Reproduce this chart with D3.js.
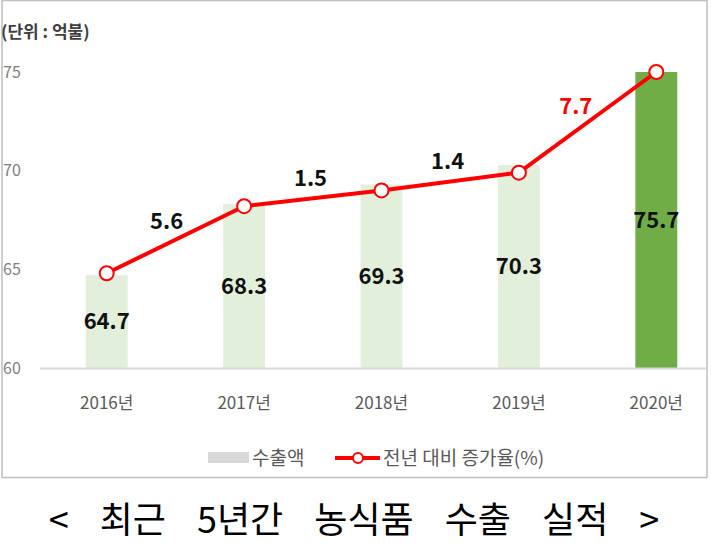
<!DOCTYPE html>
<html>
<head>
<meta charset="utf-8">
<script src="https://cdn.jsdelivr.net/npm/d3@7"></script>
<style>
  body { margin: 0; background: #fff; }
  text { font-family: "Noto Sans CJK KR", "Noto Sans", sans-serif; }
</style>
</head>
<body>
<div id="canvas"></div>
<script>
const years = ["2016년", "2017년", "2018년", "2019년", "2020년"];
const exports = [64.7, 68.3, 69.3, 70.3, 75.7];
// line markers as they sit on the value axis
const lineVals = [64.8, 68.2, 69.0, 69.9, 75.0];
const growth = ["5.6", "1.5", "1.4", "7.7"];
const yTicks = [60, 65, 70, 75];

const width = 711, height = 547;
const svg = d3.select("#canvas").append("svg")
    .attr("width", width)
    .attr("height", height);

// chart frame
svg.append("rect")
    .attr("x", 2).attr("y", 0.5)
    .attr("width", 705).attr("height", 477)
    .attr("fill", "none")
    .attr("stroke", "#bfbfbf")
    .attr("stroke-width", 1.5);

const x = d3.scaleBand()
    .domain(years)
    .range([38, 725])
    .paddingInner(0.695)
    .paddingOuter(0.3475);

const y = d3.scaleLinear()
    .domain([60, 75])
    .range([368, 72]);

const cx = d => x(d) + x.bandwidth() / 2;

// unit label
svg.append("text")
    .attr("x", 1).attr("y", 38)
    .attr("font-size", 17)
    .attr("font-weight", "bold")
    .attr("fill", "#404040")
    .text("(단위 : 억불)");

// y axis labels
const yAxis = svg.append("g")
    .attr("transform", "translate(3,0)")
    .call(d3.axisLeft(y).tickValues(yTicks).tickSize(0).tickPadding(0));
yAxis.select(".domain").remove();
yAxis.selectAll("text")
    .attr("text-anchor", "start")
    .attr("font-size", 16)
    .attr("fill", "#7f7f7f")
    .style("font-family", "'Noto Sans CJK KR', sans-serif");

// bars, top clipped at axis max
svg.append("clipPath").attr("id", "plot")
    .append("rect").attr("x", 0).attr("y", y(75)).attr("width", width).attr("height", y(60) - y(75));

svg.append("g").attr("clip-path", "url(#plot)")
    .selectAll("rect").data(exports).enter().append("rect")
    .attr("x", (d, i) => x(years[i]))
    .attr("y", d => y(d))
    .attr("width", x.bandwidth())
    .attr("height", d => y(60) - y(d))
    .attr("fill", (d, i) => i === exports.length - 1 ? "#70ad47" : "#e2efda");

// x axis
const xAxis = svg.append("g")
    .attr("transform", `translate(0,${y(60)})`)
    .call(d3.axisBottom(x).tickSize(0).tickPadding(29));
xAxis.select(".domain")
    .attr("d", `M40,0.5H706`)
    .attr("stroke", "#d9d9d9")
    .attr("stroke-width", 2);
xAxis.selectAll("text")
    .attr("font-size", 17)
    .attr("fill", "#595959")
    .style("font-family", "'Noto Sans CJK KR', sans-serif");

// bar value labels
svg.selectAll(".val").data(exports).enter().append("text")
    .attr("class", "val")
    .attr("x", (d, i) => cx(years[i]))
    .attr("y", d => (y(Math.min(d, 75)) + y(60)) / 2)
    .attr("dy", "0.35em")
    .attr("text-anchor", "middle")
    .attr("font-size", 22)
    .attr("font-weight", "bold")
    .attr("fill", "#111")
    .text(d => d.toFixed(1));

// growth line
const pts = lineVals.map((v, i) => [cx(years[i]), y(v)]);
svg.append("path")
    .attr("d", d3.line()(pts))
    .attr("fill", "none")
    .attr("stroke", "#ff0000")
    .attr("stroke-width", 4)
    .attr("stroke-linejoin", "round");

svg.selectAll(".mk").data(pts).enter().append("circle")
    .attr("class", "mk")
    .attr("cx", d => d[0]).attr("cy", d => d[1])
    .attr("r", 7)
    .attr("fill", "#fff")
    .attr("stroke", "#ff0000")
    .attr("stroke-width", 2);

// growth labels, placed above each segment
svg.selectAll(".gr").data(growth).enter().append("text")
    .attr("class", "gr")
    .each(function (d, i) {
        const a = pts[i], b = pts[i + 1];
        const mx = (a[0] + b[0]) / 2, my = (a[1] + b[1]) / 2;
        const dx = b[0] - a[0], dy = b[1] - a[1];
        const len = Math.hypot(dx, dy);
        const off = 20;
        d3.select(this)
            .attr("x", mx + dy / len * off)
            .attr("y", my - dx / len * off);
    })
    .attr("dy", "0.35em")
    .attr("text-anchor", "middle")
    .attr("font-size", 22)
    .attr("font-weight", "bold")
    .attr("fill", (d, i) => i === growth.length - 1 ? "#ff0000" : "#111")
    .text(d => d);

// legend
const lg = svg.append("g").attr("font-size", 19).attr("fill", "#595959");
lg.append("rect")
    .attr("x", 208).attr("y", 452).attr("width", 41).attr("height", 11)
    .attr("fill", "#d9d9d9");
lg.append("text").attr("x", 252).attr("y", 458).attr("dy", "0.35em").text("수출액");
lg.append("line")
    .attr("x1", 335).attr("x2", 380).attr("y1", 458).attr("y2", 458)
    .attr("stroke", "#ff0000").attr("stroke-width", 4);
lg.append("circle")
    .attr("cx", 358).attr("cy", 458).attr("r", 5)
    .attr("fill", "#fff").attr("stroke", "#ff0000").attr("stroke-width", 2);
lg.append("text").attr("x", 383).attr("y", 458).attr("dy", "0.35em").text("전년 대비 증가율(%)");

// caption
svg.append("text")
    .attr("x", 354).attr("y", 520)
    .attr("dy", "0.35em")
    .attr("text-anchor", "middle")
    .attr("font-size", 36)
    .attr("fill", "#000")
    .attr("word-spacing", 23)
    .text("< 최근 5년간 농식품 수출 실적 >");
</script>
</body>
</html>
